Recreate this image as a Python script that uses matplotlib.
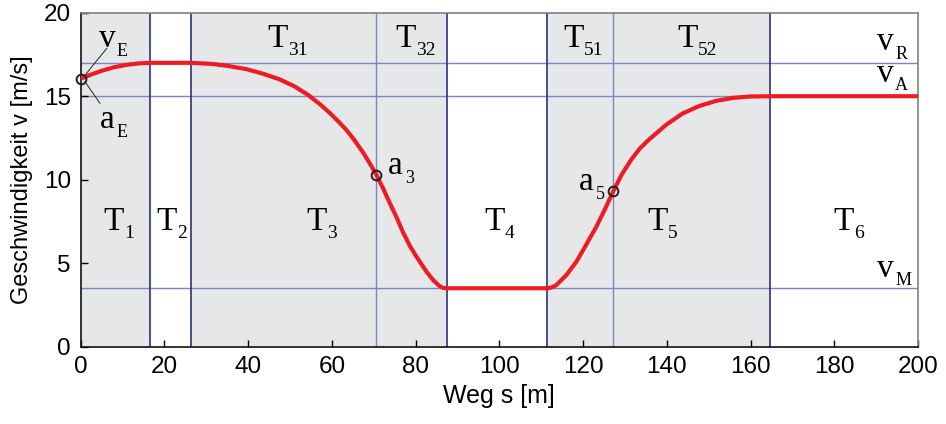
import numpy as np
import matplotlib.pyplot as plt

plt.rcParams['font.family'] = 'Liberation Sans'

# speed profile v(s)
weg = [0, 2.5, 5, 8, 11, 14, 17, 26.3, 31.6, 35, 39.6, 43.5, 47.6, 51, 54.3,
       57, 59.5, 61.5, 63.5, 65.5, 67.4, 69, 70.6, 72.2, 73.8, 75.5, 77.0,
       78.6, 80.2, 82.6, 84.2, 85.7, 86.6, 87.6, 111.5, 112.5, 113.6, 116.0,
       118.4, 120.5, 123.2, 125.2, 127.2, 129.2, 131.5, 133.5, 135.5, 139.9,
       143.8, 147.8, 151.8, 155.8, 159.7, 164.7, 200]
geschw = [16.05, 16.3, 16.52, 16.74, 16.88, 16.97, 17.0, 17.0, 16.93, 16.82,
          16.62, 16.35, 16.0, 15.6, 15.08, 14.55, 14.0, 13.5, 12.97, 12.33,
          11.65, 11.0, 10.3, 9.5, 8.62, 7.72, 6.85, 6.05, 5.39, 4.49, 3.99,
          3.63, 3.52, 3.5, 3.5, 3.55, 3.69, 4.29, 5.09, 6.0, 7.2, 8.22, 9.3,
          10.3, 11.2, 11.85, 12.35, 13.3, 13.97, 14.42, 14.72, 14.9, 14.98,
          15.0, 15.0]

# phase boundaries
grenzen_dunkel = [16.6, 26.3, 87.6, 111.5, 164.7]
grenzen_hell = [70.6, 127.2]
grau_bereiche = [(0, 16.6), (26.3, 87.6), (111.5, 164.7)]

# reference speeds
v_R, v_A, v_M = 17.0, 15.0, 3.5

# marked points (s, v)
punkte_s = [0, 70.6, 127.2]
punkte_v = [16.05, 10.3, 9.3]

# phase labels: text, subscript, s, v
phasen = [('T', '1', 7.83, 6.99), ('T', '2', 20.6, 6.99),
          ('T', '3', 56.3, 6.99), ('T', '4', 98.8, 6.99),
          ('T', '5', 137.7, 6.99), ('T', '6', 182.3, 6.99),
          ('T', '31', 47.0, 17.96), ('T', '32', 77.6, 17.96),
          ('T', '51', 117.8, 17.96), ('T', '52', 144.9, 17.96)]
groessen = [('v', 'E', 6.28, 17.96), ('a', 'E', 6.28, 13.08),
            ('v', 'R', 192.2, 17.77), ('v', 'A', 192.2, 15.87),
            ('v', 'M', 192.3, 4.19), ('a', '3', 75.1, 10.32),
            ('a', '5', 120.8, 9.38)]

fig = plt.figure(figsize=(9.46, 4.24), dpi=100)
ax = fig.add_axes([0.0853, 0.1823, 0.8851, 0.7877])

grau = '#e6e7e8'
dunkel = '#2a3282'
hell = '#7d84c2'

for a, b in grau_bereiche:
    ax.axvspan(a, b, color=grau, lw=0, zorder=0)
for v in (v_R, v_A, v_M):
    ax.axhline(v, color=hell, lw=1.0, zorder=1)
for s in grenzen_dunkel:
    ax.axvline(s, color=dunkel, lw=1.2, zorder=1)
for s in grenzen_hell:
    ax.axvline(s, color=hell, lw=1.0, zorder=1)

ax.plot(weg, geschw, color='#ed1c24', lw=3.0, solid_capstyle='butt', zorder=3)
ax.plot(punkte_s, punkte_v, 'o', ms=7, mfc='none', mec='#222222', mew=1.4,
        zorder=4, clip_on=False)

# leader lines for v_E / a_E
ax.plot([1.03, 6.21], [16.26, 17.86], color='#222222', lw=0.7, zorder=4)
ax.plot([1.03, 4.61], [15.87, 14.57], color='#222222', lw=0.7, zorder=4)

serif = 'Liberation Serif'
for t, sub, s, v in phasen:
    ax.text(s, v, t, family=serif, fontsize=24, ha='center', va='baseline',
            zorder=5)
    ax.annotate(sub, (s, v), xytext=(7.5, -6), textcoords='offset points',
                family=serif, fontsize=14, ha='left', va='baseline', zorder=5)
for t, sub, s, v in groessen:
    ax.text(s, v, t, family=serif, fontsize=24, ha='center', va='baseline',
            zorder=5)
    ax.annotate(sub, (s, v), xytext=(7, -6.3), textcoords='offset points',
                family=serif, fontsize=13, ha='left', va='baseline', zorder=5)

ax.set_xlim(0, 200)
ax.set_ylim(0, 20)
ax.set_xticks(np.arange(0, 201, 20))
ax.set_yticks(np.arange(0, 21, 5))
ax.tick_params(direction='in', length=5, width=1.0, labelsize=17.5, pad=7,
               top=False, right=False)
ax.set_xlabel('Weg s [m]', fontsize=18, labelpad=4)
ax.set_ylabel('Geschwindigkeit v [m/s]', fontsize=17, labelpad=8)

for side in ('left', 'bottom'):
    ax.spines[side].set_color('#111111')
    ax.spines[side].set_linewidth(1.2)
for side in ('top', 'right'):
    ax.spines[side].set_color('#808080')
    ax.spines[side].set_linewidth(1.2)

fig.savefig('out.png', dpi=100)
